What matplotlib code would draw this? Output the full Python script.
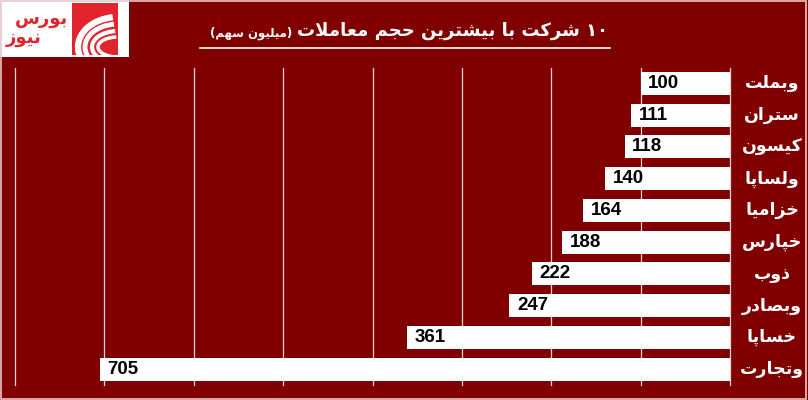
import numpy as np
import matplotlib
matplotlib.use('Agg')
import matplotlib.pyplot as plt
import matplotlib.transforms as mtransforms
from matplotlib.patches import Rectangle, Arc
from matplotlib.lines import Line2D

BG = '#800000'
GRID = '#ecd2d2'
LOGO_RED = '#e0262c'

symbols = ['وبملت', 'ستران', 'کیسون', 'ولساپا', 'خزامیا',
           'خپارس', 'ذوب', 'وبصادر', 'خساپا', 'وتجارت']
volumes = [100, 111, 118, 140, 164, 188, 222, 247, 361, 705]
grid_ticks = [0, 100, 200, 300, 400, 500, 600, 700, 800]

TITLE_MAIN = '۱۰ شرکت با بیشترین حجم معاملات'
TITLE_UNIT = '(میلیون سهم)'
LOGO_WORDS = ['بورس', 'نیوز']

# isolated, final, initial, medial presentation forms
FORMS = {
    'ا': ('\uFE8D', '\uFE8E', None, None),
    'ب': ('\uFE8F', '\uFE90', '\uFE91', '\uFE92'),
    'ت': ('\uFE95', '\uFE96', '\uFE97', '\uFE98'),
    'ج': ('\uFE9D', '\uFE9E', '\uFE9F', '\uFEA0'),
    'ح': ('\uFEA1', '\uFEA2', '\uFEA3', '\uFEA4'),
    'خ': ('\uFEA5', '\uFEA6', '\uFEA7', '\uFEA8'),
    'د': ('\uFEA9', '\uFEAA', None, None),
    'ذ': ('\uFEAB', '\uFEAC', None, None),
    'ر': ('\uFEAD', '\uFEAE', None, None),
    'ز': ('\uFEAF', '\uFEB0', None, None),
    'س': ('\uFEB1', '\uFEB2', '\uFEB3', '\uFEB4'),
    'ش': ('\uFEB5', '\uFEB6', '\uFEB7', '\uFEB8'),
    'ص': ('\uFEB9', '\uFEBA', '\uFEBB', '\uFEBC'),
    'ع': ('\uFEC9', '\uFECA', '\uFECB', '\uFECC'),
    'ل': ('\uFEDD', '\uFEDE', '\uFEDF', '\uFEE0'),
    'م': ('\uFEE1', '\uFEE2', '\uFEE3', '\uFEE4'),
    'ن': ('\uFEE5', '\uFEE6', '\uFEE7', '\uFEE8'),
    'ه': ('\uFEE9', '\uFEEA', '\uFEEB', '\uFEEC'),
    'و': ('\uFEED', '\uFEEE', None, None),
    'پ': ('\uFB56', '\uFB57', '\uFB58', '\uFB59'),
    'ک': ('\uFB8E', '\uFB8F', '\uFB90', '\uFB91'),
    'ی': ('\uFBFC', '\uFBFD', '\uFBFE', '\uFBFF'),
}


def joins_left(ch):
    return ch in FORMS and FORMS[ch][2] is not None


def shape_word(word):
    """Contextual forms for one word, returned in visual (LTR) order."""
    out = []
    i = 0
    while i < len(word):
        ch = word[i]
        prev = word[i - 1] if i > 0 else ''
        nxt = word[i + 1] if i + 1 < len(word) else ''
        if ch not in FORMS:
            out.append(ch)
            i += 1
            continue
        pj = joins_left(prev)
        if ch == 'ل' and nxt == 'ا':
            out.append('\uFEFC' if pj else '\uFEFB')
            i += 2
            continue
        nj = joins_left(ch) and nxt in FORMS
        idx = 3 if (pj and nj) else 1 if pj else 2 if nj else 0
        out.append(FORMS[ch][idx])
        i += 1
    return ''.join(reversed(out))


def rtl(text):
    words = text.split(' ')
    vis = []
    for w in reversed(words):
        if w and all('\u06F0' <= c <= '\u06F9' for c in w):
            vis.append(w)
        else:
            core = w.strip('()')
            s = shape_word(core)
            if w.startswith('('):
                s = s + ')'
            if w.endswith(')'):
                s = '(' + s
            vis.append(s)
    return ' '.join(vis)


fig = plt.figure(figsize=(8.08, 4.0), dpi=100)
fig.patch.set_facecolor(BG)

W, H = 808, 400
ax = fig.add_axes([15 / W, 15 / H, 715 / W, 317.5 / H])
ax.set_facecolor(BG)
for s in ax.spines.values():
    s.set_visible(False)

y = np.arange(len(symbols))
for t in grid_ticks:
    ax.axvline(t, color=GRID, lw=0.9, zorder=1, clip_on=False)
ax.barh(y, volumes, height=0.72, color='white', edgecolor='none', zorder=2)
ax.set_xlim(800, 0)
ax.set_ylim(len(symbols) - 0.5, -0.5)
ax.set_xticks([])
ax.set_yticks([])

for yi, v in zip(y, volumes):
    ax.annotate(f'{v}', (v, yi), xytext=(5.5, 0), textcoords='offset points',
                ha='left', va='center', fontsize=13.5, fontweight='bold',
                family='Liberation Sans', color='black', zorder=3)

lab_tr = mtransforms.blended_transform_factory(fig.transFigure, ax.transData)
for yi, name in zip(y, symbols):
    ax.text(772 / W, yi, rtl(name), transform=lab_tr, ha='center', va='center',
            fontsize=12.5, fontweight='bold', family='DejaVu Sans', color='white')

# title
fig.text(608 / W, 1 - 31 / H, rtl(TITLE_MAIN), ha='right', va='center',
         fontsize=13, fontweight='bold', family='DejaVu Sans', color='white')
fig.text(292 / W, 1 - 33 / H, rtl(TITLE_UNIT), ha='right', va='center',
         fontsize=8.5, fontweight='bold', family='DejaVu Sans', color='white')
fig.add_artist(Line2D([200 / W, 610 / W], [1 - 48 / H, 1 - 48 / H],
                      color='white', lw=1.2, transform=fig.transFigure))

# logo
fig.add_artist(Rectangle((0, 1 - 57 / H), 129 / W, 57 / H, facecolor='white',
                         edgecolor='none', transform=fig.transFigure))
logo_ax = fig.add_axes([72 / W, 1 - 55 / H, 46 / W, 52 / H], zorder=3)
logo_ax.set_facecolor(LOGO_RED)
logo_ax.set_xlim(0, 46)
logo_ax.set_ylim(0, 52)
logo_ax.set_xticks([])
logo_ax.set_yticks([])
for s in logo_ax.spines.values():
    s.set_visible(False)
for r, lw in [(30, 4.5), (23, 3.5), (16, 3), (10, 2.5)]:
    logo_ax.add_patch(Arc((46, 8), 2 * r + 20, 2 * r, theta1=100, theta2=260,
                          color='white', lw=lw))
fig.text(41 / W, 1 - 19 / H, rtl(LOGO_WORDS[0]), ha='center', va='center',
         fontsize=13, fontweight='bold', family='DejaVu Sans',
         color=LOGO_RED, zorder=4)
fig.text(24 / W, 1 - 38 / H, rtl(LOGO_WORDS[1]), ha='center', va='center',
         fontsize=13, fontweight='bold', family='DejaVu Sans',
         color=LOGO_RED, zorder=4)

# thin light frame round the picture
fig.add_artist(Rectangle((0.001, 0.002), 0.997, 0.995, facecolor='none',
                         edgecolor='#e8c8c8', lw=1.2, transform=fig.transFigure))

fig.savefig('out.png', dpi=100, facecolor=fig.get_facecolor())
